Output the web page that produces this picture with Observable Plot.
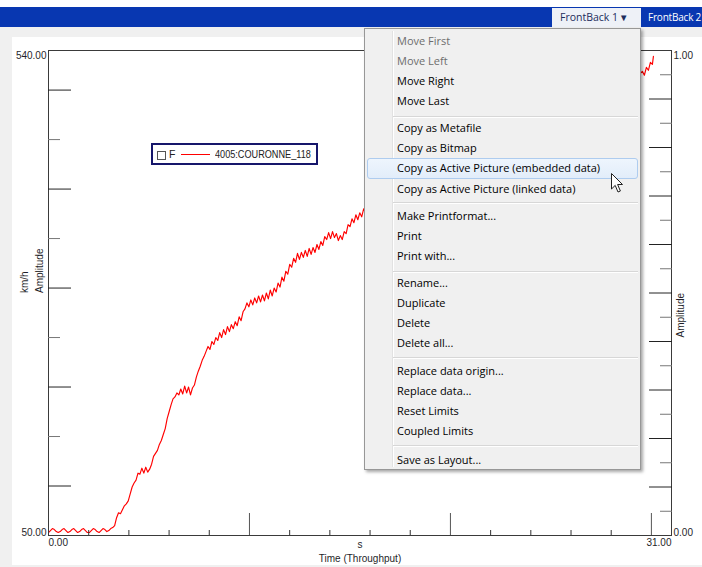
<!DOCTYPE html>
<html><head><meta charset="utf-8">
<script src="https://cdn.jsdelivr.net/npm/d3@7"></script>
<script src="https://cdn.jsdelivr.net/npm/@observablehq/plot@0.6"></script>
<style>
html,body{margin:0;padding:0;width:702px;height:567px;overflow:hidden;background:#f0f0f0;font-family:"Liberation Sans",Arial,sans-serif;position:relative}
#topwhite{position:absolute;left:0;top:0;width:702px;height:7px;background:#fff}
#bar{position:absolute;left:0;top:7px;width:702px;height:20px;background:#0837b1}
#tab1{position:absolute;left:552px;top:8px;width:89px;height:19px;background:#eef1f7;color:#1d2d5c;font:10.5px "Open Sans",sans-serif;line-height:19px}
#tab1 span{position:absolute;left:8px;white-space:nowrap}
#tab1 b{position:absolute;left:67px;font-weight:normal;font-size:9.5px}
#tab2{position:absolute;left:648px;top:8px;height:19px;color:#fff;font:10px "Open Sans",sans-serif;line-height:19px;white-space:nowrap;letter-spacing:-0.2px}
#panel{position:absolute;left:12px;top:37px;width:690px;height:528px;background:#fff}
#chart{position:absolute;left:0;top:0}
#legend{position:absolute;left:151px;top:143px;width:163px;height:18px;border:2px solid #16166b;background:#fff;font:10.5px "Liberation Sans",Arial,sans-serif;color:#222}
#legend .chk{position:absolute;left:4px;top:6px;width:7px;height:7px;border:1px solid #555}
#legend .f{position:absolute;left:16px;top:3px}
#legend .ln{position:absolute;left:28px;top:9px;width:29px;height:1px;background:#f00}
#legend .nm{position:absolute;left:62px;top:3px;white-space:nowrap;transform:scaleX(0.87);transform-origin:0 50%}
#menu{position:absolute;left:364px;top:28px;width:275px;height:440px;border:1px solid #979797;background:#f0f0f0;box-shadow:2px 2px 3px rgba(0,0,0,0.35);font:11px "Open Sans",sans-serif;color:#000}
#menu .gut{position:absolute;left:27px;top:2px;width:1px;height:436px;background:#e2e2e2;border-right:1px solid #fff}
#menu .it{position:absolute;left:32px;height:20px;line-height:20px;white-space:nowrap}
#menu .dis{color:#6d6d6d}
#menu .sep{position:absolute;left:28px;width:245px;height:1px;background:#d7d7d7;border-bottom:1px solid #fff}
#menu .hl{position:absolute;left:2px;width:269px;height:19px;border:1px solid #aeccef;border-radius:3px;background:linear-gradient(#eef5fd,#e2edfa)}
#cursor{position:absolute;left:611px;top:173px}
</style></head>
<body>
<div id="topwhite"></div>
<div id="bar"></div>
<div id="tab1"><span>FrontBack 1</span><b>▼</b></div>
<div id="tab2">FrontBack 2</div>
<div id="panel"></div>
<div id="chart"></div>
<div id="legend"><div class="chk"></div><div class="f">F</div><div class="ln"></div><div class="nm">4005:COURONNE_118</div></div>
<div id="menu"></div>
<svg id="cursor" width="14" height="22" viewBox="0 0 14 22"><path d="M0.5,0.5 L0.5,16 L4.2,12.4 L7,19 L9.4,18 L6.6,11.5 L11.5,11.5 Z" fill="#fff" stroke="#222" stroke-width="1"/></svg>
<script>
// ---- data ----
const sampleDt = 0.0968; // seconds between samples
const speedValues = [
 53,55,57,56,54,53,54,56,57,55,53,54,56,57,55,53,54,56,57,55,53,53,55,57,56,54,53,55,57,56,54,55,57,58,
 60,68,73,72,76,80,82,85,92,99,
 103,106,113,112,118,113,119,114,117,122,
 130,133,136,142,146,152,158,168,175,182,
 188,190,194,192,198,193,201,194,200,192,
 199,202,210,216,221,227,231,236,241,238,
 246,243,250,247,255,250,258,253,261,256,
 263,259,266,262,271,267,276,279,285,281,
 288,283,290,285,292,286,293,287,295,289,
 298,292,300,296,305,301,311,307,317,314,
 324,321,330,326,335,329,336,331,338,332,
 340,334,341,336,344,339,347,343,352,349,
 356,350,357,351,355,348,353,349,357,355,
 364,362,370,366,374,369,376,372,380,376
];
const tailTimes  = [16.5,17.5,18.5,19.5,20.5,21.5,22.5,23.5,24.5,25.5,26.5,27.5,28.5,29.3,29.55,29.65,29.75,29.85,29.95,30.05,30.1];
const tailValues = [385,395,406,417,428,438,448,458,467,477,487,497,506,514,519,515,523,520,528,526,534];

const xMinorTicks = [2,4,6,8,12,14,16,18,22,24,26,28];
const xMajorTicks = [10,20,30];
const yMajorTicks = [100,200,300,400,500];
const yMinorTicks = [150,250,350,450];
const rightMajorTicks = [0.1,0.2,0.3,0.4,0.5,0.6,0.7,0.8,0.9];
const rightMinorTicks = [0.05,0.15,0.25,0.35,0.45,0.55,0.65,0.75,0.85,0.95];
const yDomain = [50, 540];
const xDomain = [0, 31];
const rightDomain = [0, 1];
const seriesName = "4005:COURONNE_118";

const menuItems = [
 ["Move First",41,true],["Move Left",61,true],["Move Right",81],["Move Last",101],
 ["Copy as Metafile",128],["Copy as Bitmap",148],["Copy as Active Picture (embedded data)",168],["Copy as Active Picture (linked data)",189],
 ["Make Printformat...",216],["Print",236],["Print with...",256],
 ["Rename...",283],["Duplicate",303],["Delete",323],["Delete all...",343],
 ["Replace data origin...",371],["Replace data...",391],["Reset Limits",411],["Coupled Limits",431],
 ["Save as Layout...",460]
];
const menuSeps = [116,202,271,357,445];
const menuHighlight = 168;

// ---- menu ----
const menu = document.getElementById("menu");
let h = '<div class="gut"></div>';
h += `<div class="hl" style="top:${menuHighlight-29-10}px"></div>`;
for (const s of menuSeps) h += `<div class="sep" style="top:${s-29}px"></div>`;
for (const [t,c,d] of menuItems) h += `<div class="it${d?' dis':''}" style="top:${c-29-10}px">${t}</div>`;
menu.innerHTML = h;

// ---- chart ----
const data = speedValues.map((v,i)=>({t:i*sampleDt, v}))
  .concat(tailTimes.map((t,i)=>({t, v:tailValues[i]})));
const right = d3.scaleLinear(rightDomain, yDomain);
const noText = () => "";

const chart = Plot.plot({
  width: 702, height: 567,
  marginLeft: 48, marginRight: 31, marginTop: 50, marginBottom: 32,
  x: {domain: xDomain, axis: null},
  y: {domain: yDomain, axis: null},
  style: {background: "transparent", fontFamily: "Liberation Sans, Arial, sans-serif", fontSize: "10px", color: "#1f1f2a", overflow: "visible"},
  marks: [
    Plot.line(data, {x: "t", y: "v", stroke: "#ff0000", strokeWidth: 1.15}),
    Plot.frame({stroke: "#3a3a3a"}),
    Plot.axisX(xMinorTicks, {anchor: "bottom", tickSize: -5, tickFormat: noText, label: null, stroke: "#333"}),
    Plot.axisX(xMajorTicks, {anchor: "bottom", tickSize: -22, tickFormat: noText, label: null, stroke: "#555"}),
    Plot.axisY(yMajorTicks, {anchor: "left", tickSize: -23, tickFormat: noText, label: null, stroke: "#222"}),
    Plot.axisY(yMinorTicks, {anchor: "left", tickSize: -12, tickFormat: noText, label: null, stroke: "#777"}),
    Plot.axisY(rightMajorTicks.map(d=>right(d)), {anchor: "right", tickSize: -23, tickFormat: noText, label: null, stroke: "#222"}),
    Plot.axisY(rightMinorTicks.map(d=>right(d)), {anchor: "right", tickSize: -12, tickFormat: noText, label: null, stroke: "#777"}),
    // tick labels
    Plot.text([yDomain[1]], {y: d=>d, text: d=>d.toFixed(2), frameAnchor: "left", textAnchor: "end", lineAnchor: "top", dx: -2, dy: 1}),
    Plot.text([yDomain[0]], {y: d=>d, text: d=>d.toFixed(2), frameAnchor: "left", textAnchor: "end", lineAnchor: "bottom", dx: -2, dy: 0}),
    Plot.text([rightDomain[1]], {y: d=>right(d), text: d=>d.toFixed(2), frameAnchor: "right", textAnchor: "start", lineAnchor: "top", dx: 2, dy: 1}),
    Plot.text([rightDomain[0]], {y: d=>right(d), text: d=>d.toFixed(2), frameAnchor: "right", textAnchor: "start", lineAnchor: "bottom", dx: 2, dy: 0}),
    Plot.text([xDomain[0]], {x: d=>d, text: d=>d.toFixed(2), frameAnchor: "bottom", textAnchor: "start", lineAnchor: "top", dy: 3}),
    Plot.text([xDomain[1]], {x: d=>d, text: d=>d.toFixed(2), frameAnchor: "bottom", textAnchor: "end", lineAnchor: "top", dy: 3}),
    // axis titles
    Plot.text(["s"], {frameAnchor: "bottom", lineAnchor: "middle", dy: 9}),
    Plot.text(["Time (Throughput)"], {frameAnchor: "bottom", lineAnchor: "middle", dy: 23}),
    Plot.text(["km/h"], {frameAnchor: "left", rotate: -90, dx: -24}),
    Plot.text(["Amplitude"], {frameAnchor: "left", rotate: -90, dx: -9}),
    Plot.text(["Amplitude"], {frameAnchor: "right", rotate: -90, dx: 9})
  ]
});
document.getElementById("chart").appendChild(chart);
document.querySelector("#legend .nm").textContent = seriesName;
</script>
</body></html>
